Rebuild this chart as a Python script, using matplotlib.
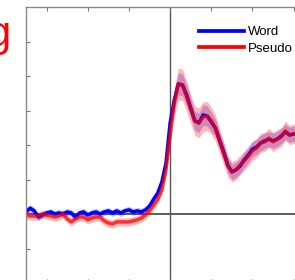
import matplotlib.pyplot as plt
import numpy as np

plt.rcParams['font.family'] = ['Liberation Sans', 'DejaVu Sans']

# time in ms, amplitude in arbitrary units
times = list(range(-350, 320, 10))

word = [0.06, 0.17, 0.09, -0.09, -0.03, 0.03, 0.06, 0.0, 0.03, 0.0,
        0.06, 0.03, -0.09, 0.03, 0.06, -0.03, 0.03, 0.06, 0.0, 0.06,
        0.09, 0.03, 0.09, 0.03, 0.09, 0.12, 0.06, 0.09, 0.06, 0.12,
        0.23, 0.43, 0.61, 0.93, 1.48, 2.64, 3.30, 3.77, 3.74, 3.45,
        3.07, 2.70, 2.64, 2.87, 2.84, 2.67, 2.49, 2.14, 1.80, 1.42,
        1.22, 1.28, 1.39, 1.57, 1.71, 1.88, 1.94, 2.06, 2.12, 2.17,
        2.12, 2.17, 2.26, 2.38, 2.29, 2.32, 2.30]

pseudo = [-0.03, -0.06, -0.06, -0.06, 0.0, -0.03, -0.06, -0.09, -0.06, 0.0,
          -0.14, -0.23, -0.14, -0.09, -0.09, -0.17, -0.12, -0.09, -0.09, -0.20,
          -0.26, -0.29, -0.23, -0.23, -0.23, -0.23, -0.20, -0.17, -0.12, -0.03,
          0.09, 0.26, 0.43, 0.70, 1.28, 2.29, 3.22, 3.77, 3.74, 3.42,
          3.04, 2.70, 2.64, 2.81, 2.84, 2.70, 2.49, 2.12, 1.77, 1.39,
          1.22, 1.28, 1.42, 1.54, 1.68, 1.83, 1.91, 2.06, 2.09, 2.20,
          2.09, 2.17, 2.23, 2.41, 2.29, 2.32, 2.33]

word_sem = [0.10] * 34 + [0.12, 0.20, 0.28, 0.32, 0.32, 0.30, 0.28, 0.27, 0.28, 0.30,
                          0.30, 0.28, 0.26, 0.25, 0.24, 0.23, 0.22, 0.22, 0.22, 0.22,
                          0.22, 0.22, 0.22, 0.22, 0.22, 0.22, 0.22, 0.22, 0.22, 0.22,
                          0.22, 0.22, 0.22]
pseudo_sem = [0.12] * 34 + [0.15, 0.28, 0.40, 0.46, 0.46, 0.44, 0.42, 0.42, 0.43, 0.44,
                            0.42, 0.40, 0.38, 0.36, 0.34, 0.32, 0.30, 0.29, 0.28, 0.28,
                            0.28, 0.28, 0.28, 0.28, 0.28, 0.28, 0.28, 0.28, 0.28, 0.28,
                            0.28, 0.28, 0.28]

t = np.array(times)
w = np.array(word)
p = np.array(pseudo)
ws = np.array(word_sem)
ps = np.array(pseudo_sem)

fig = plt.figure(figsize=(2.95, 2.80), dpi=100)
ax = fig.add_axes([26 / 295, -3 / 280, 350 / 295, 276 / 280])

ax.axhline(0, color='#333333', lw=1.1, zorder=1)
ax.axvline(0, color='#555555', lw=1.0, zorder=1)

ax.fill_between(t, w - ws, w + ws, color='blue', alpha=0.25, lw=0)
ax.plot(t, w, color='blue', lw=2.5)
ax.fill_between(t, p - ps, p + ps, color='red', alpha=0.28, lw=0)
ax.plot(t, p, color='red', lw=2.5, alpha=0.75)

ax.set_xlim(-350, 500)
ax.set_ylim(-2, 6)
ax.set_xticks(range(-300, 500, 100))
ax.set_yticks(range(-1, 6))
ax.tick_params(direction='in', length=3, color='#777777', top=True, right=True,
               labelleft=False, labelbottom=False)
for s in ax.spines.values():
    s.set_color('#888888')
    s.set_linewidth(1.0)

h1, = ax.plot([], [], color='blue', lw=2.7)
h2, = ax.plot([], [], color='red', lw=2.7)
ax.legend([h1, h2], ['Word', 'Pseudo'], loc='upper left', frameon=False,
          bbox_to_anchor=(199 / 295, 1 - 26 / 280), bbox_transform=fig.transFigure,
          borderpad=0, borderaxespad=0, handlelength=3.4, handletextpad=0.3,
          labelspacing=0.35, prop={'size': 9.5})

fig.text(10 / 295, 1 - 46 / 280, 'g', color='red', fontsize=30, ha='right', va='baseline')

fig.savefig('out.png', dpi=100)
